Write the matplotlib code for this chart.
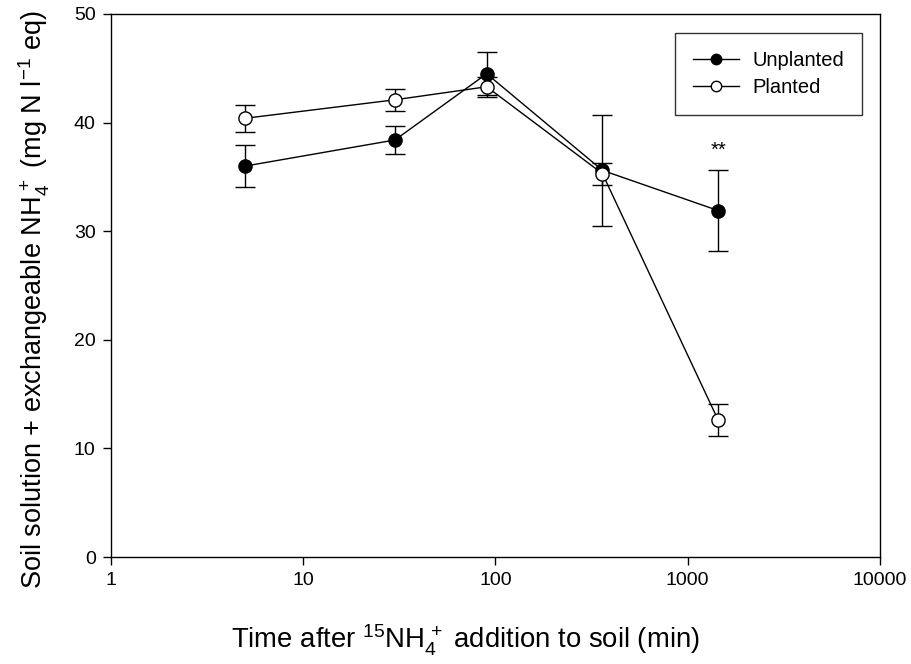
import matplotlib
matplotlib.use("Agg")
import matplotlib.pyplot as plt
from matplotlib.lines import Line2D
from matplotlib.ticker import FixedLocator, FixedFormatter, NullLocator

plt.rcParams['font.family'] = ['Liberation Sans', 'DejaVu Sans']
plt.rcParams['mathtext.fontset'] = 'custom'
plt.rcParams['mathtext.rm'] = 'Liberation Sans'
plt.rcParams['mathtext.it'] = 'Liberation Sans:italic'
plt.rcParams['mathtext.bf'] = 'Liberation Sans:bold'

time_min = [5, 30, 90, 360, 1440]
unplanted = [36.0, 38.4, 44.5, 35.6, 31.9]
unplanted_err = [1.9, 1.25, 2.0, 5.1, 3.7]
planted = [40.4, 42.1, 43.3, 35.3, 12.6]
planted_err = [1.25, 1.0, 0.9, 1.0, 1.5]
x_ticks = [1, 10, 100, 1000, 10000]
x_tick_labels = ["1", "10", "100", "1000", "10000"]
y_ticks = [0, 10, 20, 30, 40, 50]
sig_label = "**"

fig = plt.figure(figsize=(9.12, 6.64), dpi=100)
ax = fig.add_axes([111/912, 1-557/664, (880-111)/912, (557-14)/664])

common = dict(color='black', lw=1.0, elinewidth=1.0, capsize=7, capthick=1.0,
              marker='o', markersize=9.5, markeredgewidth=1.0, markeredgecolor='black')
ax.errorbar(time_min, unplanted, yerr=unplanted_err, markerfacecolor='black',
            zorder=3, **common)
ax.errorbar(time_min, planted, yerr=planted_err, markerfacecolor='white',
            zorder=4, **common)

ax.text(time_min[4], unplanted[4] + unplanted_err[4] + 1.0, sig_label,
        ha='center', va='bottom', fontsize=14.5)

ax.set_xscale('log')
ax.set_xlim(1, 10000)
ax.set_ylim(0, 50)
ax.xaxis.set_major_locator(FixedLocator(x_ticks))
ax.xaxis.set_major_formatter(FixedFormatter(x_tick_labels))
ax.xaxis.set_minor_locator(NullLocator())
ax.set_yticks(y_ticks)
ax.tick_params(axis='both', which='major', direction='out', length=6, width=1.0,
               labelsize=14, pad=5, colors='black')
for s in ax.spines.values():
    s.set_linewidth(1.0)

ax.set_xlabel(r"Time after $^{15}$NH$_4^{\,+}$ addition to soil (min)", fontsize=19.8)
ax.set_ylabel(r"Soil solution + exchangeable NH$_4^{\,+}$ (mg N l$^{-1}$ eq)", fontsize=19.5)
ax.xaxis.set_label_coords((465-111)/769, -(640-557)/543)
ax.xaxis.label.set_va('center')
ax.yaxis.set_label_coords(-(111-34)/769, (557-300)/543)
ax.yaxis.label.set_va('center')

handles = [
    Line2D([], [], color='black', lw=1.0, marker='o', markersize=7.5,
           markerfacecolor='black', markeredgecolor='black', label='Unplanted'),
    Line2D([], [], color='black', lw=1.0, marker='o', markersize=7.5,
           markerfacecolor='white', markeredgecolor='black', label='Planted'),
]
leg = ax.legend(handles=handles, loc='upper right',
                bbox_to_anchor=((862-111)/769, (557-33)/543),
                fontsize=14.5, frameon=True, fancybox=False, edgecolor='black',
                handlelength=2.3, borderpad=0.9, labelspacing=0.4, handletextpad=0.65,
                borderaxespad=0)
leg.get_frame().set_linewidth(1.0)

fig.savefig("out.png", dpi=100)
